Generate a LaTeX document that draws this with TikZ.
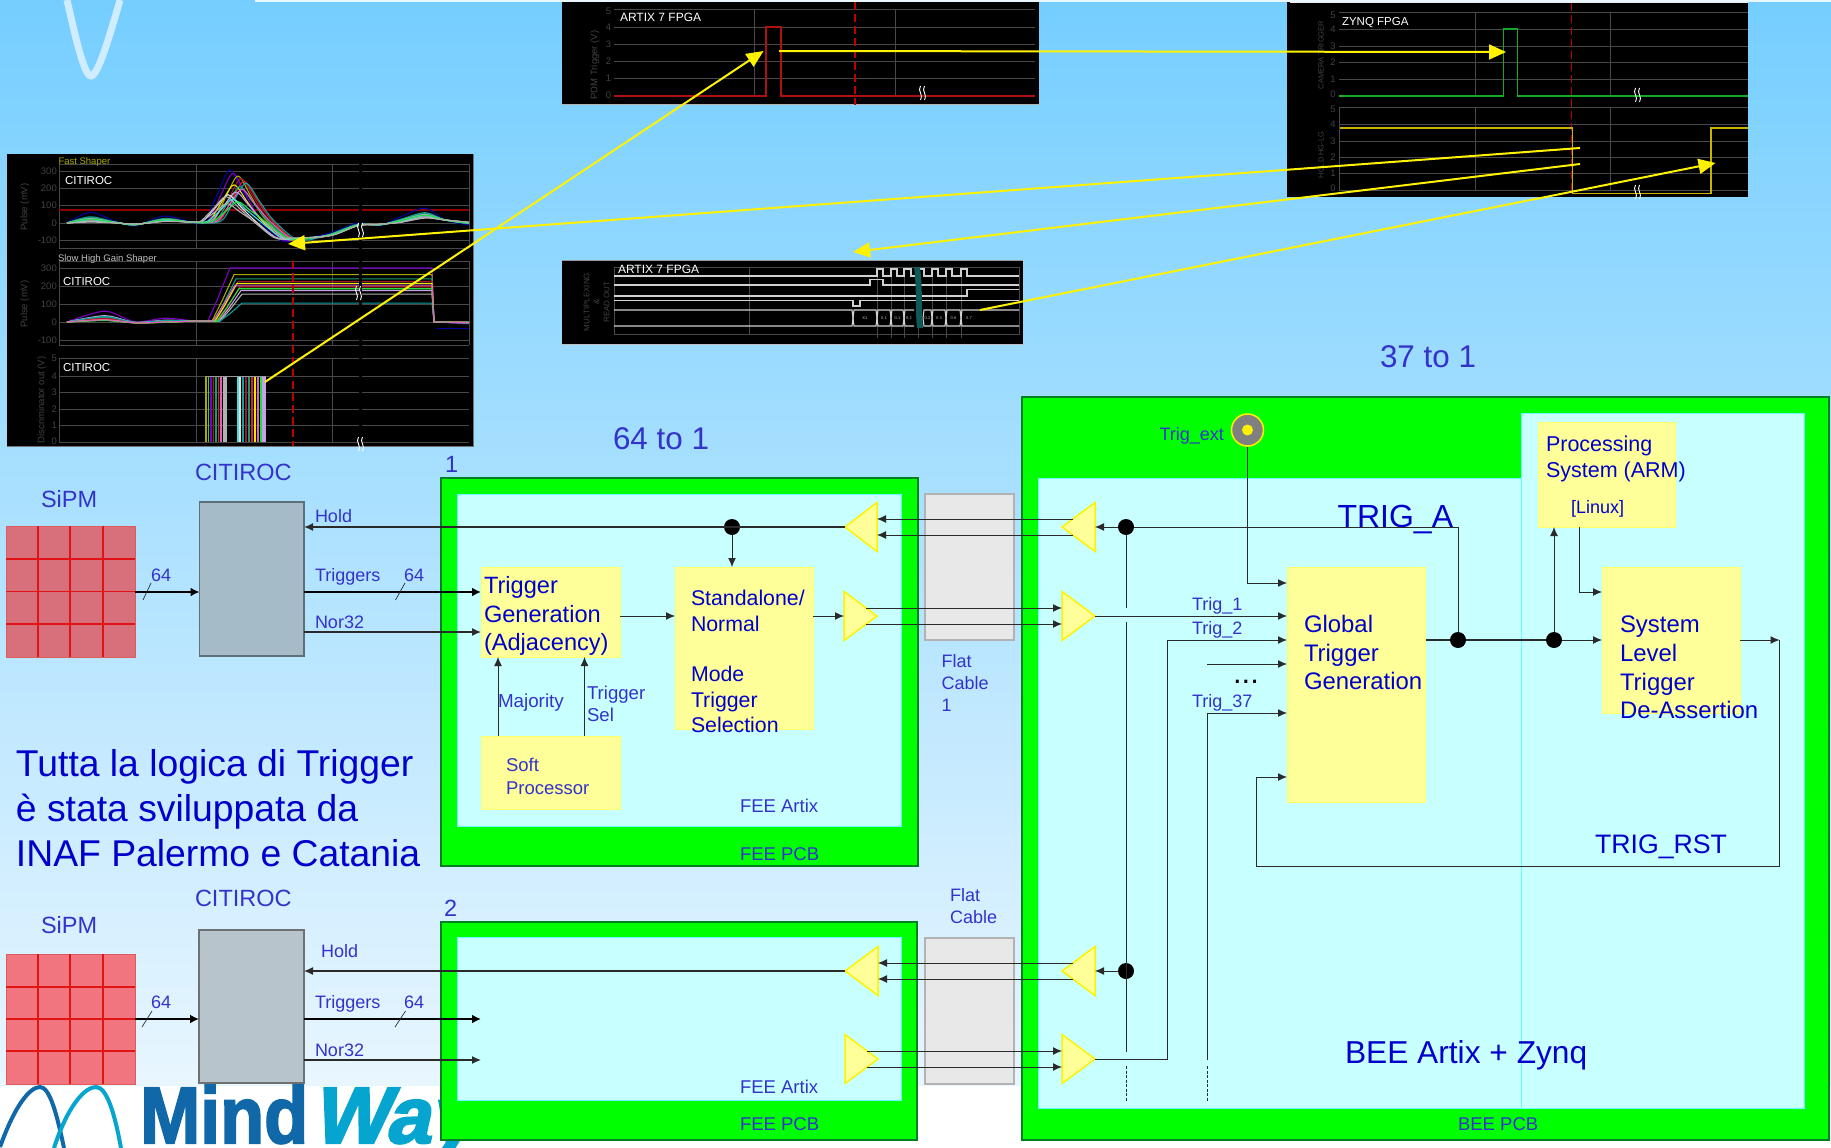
\documentclass[tikz,border=0pt]{standalone}
\usepackage{fontspec}
\usepackage{graphicx}
\setmainfont{Liberation Sans}
\newfontfamily\logofm[FakeBold=2.5]{Liberation Sans Bold}
\newfontfamily\logofw[FakeBold=2.5,FakeSlant=0.22]{Liberation Sans Bold}
\usetikzlibrary{arrows.meta,calc}
\definecolor{bluet}{HTML}{3333CC}
\definecolor{bluek}{HTML}{0000CC}
\definecolor{pcbg}{HTML}{00FF00}
\definecolor{pcbe}{HTML}{008020}
\definecolor{innerc}{HTML}{C8FFFF}
\definecolor{innere}{HTML}{66FFFF}
\definecolor{boxy}{HTML}{FFFF99}
\definecolor{boxe}{HTML}{FFFF66}
\definecolor{linec}{HTML}{2A2A2A}
\definecolor{gridc}{HTML}{484848}
\definecolor{tickc}{HTML}{424242}
\definecolor{wa}{HTML}{7A00C8}
\definecolor{wb}{HTML}{A8A800}
\definecolor{wc}{HTML}{10A070}
\definecolor{wd}{HTML}{A01830}
\definecolor{we}{HTML}{E02020}
\definecolor{wf}{HTML}{C8A0E8}
\definecolor{wg}{HTML}{B0B0B0}
\definecolor{wh}{HTML}{10A0A0}
\definecolor{wi}{HTML}{E8E800}
\definecolor{wj}{HTML}{0000A0}
\definecolor{wk}{HTML}{E060C0}
\definecolor{wl}{HTML}{20E040}
\definecolor{wm}{HTML}{E0E0E0}
\definecolor{wn}{HTML}{40E0E0}
\definecolor{logod}{HTML}{1068A8}
\definecolor{logol}{HTML}{05A5D0}
\tikzset{
  pcb/.style={fill=pcbg,draw=pcbe,line width=1.5pt},
  innerb/.style={fill=innerc,draw=innere,line width=1pt},
  ybox/.style={fill=boxy,draw=boxe,line width=1pt},
  cable/.style={fill=black!9,draw=black!30,line width=1.5pt},
  chipa/.style={fill={rgb,255:red,165;green,187;blue,200},draw={rgb,255:red,95;green,111;blue,120},line width=1.5pt},
  chipb/.style={fill={rgb,255:red,184;green,196;blue,204},draw={rgb,255:red,111;green,112;blue,114},line width=1.5pt},
  sipma/.style={fill={rgb,255:red,216;green,112;blue,124},draw={rgb,255:red,224;green,90;blue,90},line width=1pt},
  sipmb/.style={fill={rgb,255:red,240;green,117;blue,126},draw={rgb,255:red,224;green,90;blue,90},line width=1pt},
  sipml/.style={draw={rgb,255:red,224;green,20;blue,20},line width=1.2pt},
  dotn/.style={circle,fill=black,inner sep=0,minimum size=16pt},
  wire/.style={draw=linec,line width=1pt},
  arr/.style={wire,-{Latex[length=9pt,width=8pt]}},
  thickarr/.style={draw=black,line width=2.5pt,-{Latex[length=9pt,width=9pt]}},
  wirethick/.style={draw=linec,line width=1.6pt},
  thinslash/.style={draw=linec,line width=.7pt},
  finedash/.style={draw=linec,line width=.7pt,dash pattern=on 3pt off 1.5pt},
  buff/.style={fill=boxy,draw=yellow,line width=1.5pt,line join=miter},
  yarr/.style={draw=yellow,line width=2pt,-{Triangle[length=17pt,width=15pt]}},
  grid line/.style={draw=gridc,line width=.9pt},
  sig/.style={draw=black!18,line width=1.1pt},
  reddash/.style={draw={rgb,255:red,190;green,0;blue,0},line width=1.2pt,dash pattern=on 8pt off 4pt},
  panel/.style={fill=black}
}
% text: name,x,ycentre,size,leading,colour,text
\newcommand\lbl[7]{\node[anchor=base west,inner sep=0,outer sep=0,text=#6,font=\fontsize{#4}{#5}\selectfont] (#1) at ({#2},{#3+0.36*#4}) {\begin{tabular}[t]{@{}l@{}}#7\end{tabular}};}
% box: name,x1,y1,x2,y2,style
\newcommand\pbox[6]{\node[#6,inner sep=0,outer sep=0,minimum width={(#4-#2)*1pt},minimum height={(#5-#3)*1pt}] (#1) at ({(#2+#4)/2},{(#3+#5)/2}) {};}
% buffer: name,tipx,basex,yc
\newcommand\buf[4]{%
  \filldraw[buff] (#2,#4) -- (#3,#4-24.5) -- (#3,#4+24.5) -- cycle;
  \coordinate (#1-tip) at (#2,#4);
  \coordinate (#1-base) at (#3,#4);
  \coordinate (#1-a) at ({#2+(#3-#2)/3},#4-8);
  \coordinate (#1-b) at ({#2+(#3-#2)/3},#4+8);
  \coordinate (#1-ba) at (#3,#4-8);
  \coordinate (#1-bb) at (#3,#4+8);}
% squiggle break
\newcommand\brk[2]{\draw[white,line width=.9pt] (#1-1.5,#2-7) .. controls (#1-5,#2-2) and (#1+2,#2+2) .. (#1-1.5,#2+7) (#1+2.5,#2-7) .. controls (#1-1,#2-2) and (#1+6,#2+2) .. (#1+2.5,#2+7);}
% SiPM: x-lines at 38,70,103
\newcommand\sipmgrid[4]{\draw[sipml] (38,#1) -- (38,#2) (70,#1) -- (70,#2) (103,#1) -- (103,#2) (6,#3) -- (135,#3) (6,#4) -- (135,#4) (6,{(#3+#4)/2}) -- (135,{(#3+#4)/2});}
\begin{document}
\begin{tikzpicture}[x=1pt,y=-1pt]
\useasboundingbox (0,0) rectangle (1831,1148);
\fill[white] (0,0) rectangle (1831,1148);
\shade[top color={rgb,255:red,117;green,206;blue,255},bottom color={rgb,255:red,232;green,246;blue,255}] (0,0) rectangle (1831,1085);
\fill[white!70!cyan!30!white] (255,0) rectangle (1831,2);
% logo fragments
\draw[line width=7pt,color={rgb,255:red,208;green,236;blue,255}] (67,0) .. controls (75,35) and (84,76) .. (91,76) .. controls (98,76) and (110,35) .. (120,0);
\draw[logod,line width=4pt] (0,1147) .. controls (15,1105) and (30,1087) .. (40,1087) .. controls (50,1087) and (57,1115) .. (64,1148);
\draw[logol,line width=4pt] (54,1148) .. controls (68,1105) and (85,1087) .. (96,1087) .. controls (107,1087) and (115,1115) .. (121,1148);
\node[anchor=base west,inner sep=0,text=logod,font=\fontsize{80}{80}\logofm] (logoa) at (140,1143) {\scalebox{.9}[1]{Mind}};
\node[anchor=base west,inner sep=0,text=logol,font=\fontsize{80}{80}\logofw] (logob) at (312,1143) {Way};

% ---------- PANEL A: CITIROC ----------
\fill[panel] (7,154) rectangle (473,446);
\draw[draw=black!55,line width=.8pt] (473,154) -- (473,446) -- (7,446);
\foreach \yy in {164,171,188,205,223,240,248,261,268,286,304,322,340,345,358,376,392,409,425,442}
  \draw[grid line] (59,\yy) -- (469,\yy);
\foreach \xx/\ya/\yb in {59/164/248,59/261/345,59/358/443,469/164/248,469/261/345,196/164/248,196/261/345,196/358/443,332/164/248,332/261/345,332/358/443}
  \draw[grid line] (\xx,\ya) -- (\xx,\yb);
\draw[draw={rgb,255:red,140;green,0;blue,0},line width=1.2pt] (59,210) -- (469,210);
\foreach \wcl/\wam/\wds/\wbp in {wj/300/-2/60,wa/280/1/30,wb/265/6/25,wd/250/9/20,we/235/12/15,wh/225/14/35,wi/215/2/10,wc/205/8/30,wk/190/10/12,wf/175/4/25,wm/160/-4/8,wg/150/-6/10,wn/135/1/18,wl/120/6/22,wg/110/-5/5}
{
  \draw[\wcl,line width=1.1pt] plot[smooth] coordinates {(67,223) (90,223-\wbp*.177) (115,223-\wbp*.03) (135,224+\wbp*.03) (165,222-\wbp*.1) (195,222+\wbp*.02) (207+\wds,221) (220+\wds,223-\wam*.1) (232+\wds,223-\wam*.177) (245+\wds,223-\wam*.1) (258+\wds,223-\wam*.02) (280+\wds,236+\wam*.01) (295+\wds,238+\wbp*.05) (330,236-\wbp*.05) (358,226-\wbp*.05) (380,224+\wbp*.03) (400,223-\wbp*.1) (425,219-\wbp*.18) (445,220) (469,222+\wbp*.05)};
}
\foreach \wcl/\wam/\wds/\wbp in {wa/300/-4/60,wb/263/0/30,wc/240/2/25,wd/225/4/20,we/195/6/15,wf/175/7/35,wg/155/8/10,wh/105/8/30,wi/215/3/10,wl/185/5/8,wk/205/1/12}
{
  \draw[\wcl,line width=1.1pt] plot[smooth] coordinates {(67,322) (105,322-\wbp*.18) (135,323-\wbp*.02) (165,323-\wbp*.08) (195,321) (212+\wds,321)} -- (222+\wds,322-\wam*.08) -- (234+\wds,322-\wam*.18) -- (432,322-\wam*.18) -- (434,322) -- (469,322+\wbp*.03);
}
\draw[wj,line width=1pt] (436,328) -- (469,328);
\foreach \xp/\wcl in {206/wb,208.5/wl,211/wa,213.5/wd,216/wc,218.5/we,221/wk,224/wg,226/wg,238/wn,240/wm,243/wh,246/wd,249/wc,252/we,255/wi,258/wk,261/wl,263/wf,265/wf}
  \draw[\wcl,line width=1.4pt] (\xp,376) -- (\xp,442);
\draw[draw=black!40,line width=1pt] (206,376) -- (265,376);
\draw[reddash] (293,261) -- (293,446);
\fill[black] (358.5,164) rectangle (362,443);
\brk{360}{230}\brk{358}{293}\brk{360}{444}
\lbl{fastsh}{58.5}{161}{9.5}{11}{{rgb,255:red,170;green,170;blue,0}}{Fast Shaper}
\lbl{slowsh}{58}{258}{9.5}{11}{black!25}{Slow High Gain Shaper}
\lbl{citia}{65}{180}{11.5}{13}{white}{CITIROC}
\lbl{citib}{63}{281}{11.5}{13}{white}{CITIROC}
\lbl{citic}{63}{367}{11.5}{13}{white}{CITIROC}
\foreach \yy/\tt in {171/300,188/200,205/100,223/0,240/-100}
  \node[anchor=east,inner sep=0,text=tickc,font=\fontsize{9.5}{10}\selectfont] (tka\yy) at (57,\yy) {\tt};
\foreach \yy/\tt in {268/300,286/200,304/100,322/0,340/-100}
  \node[anchor=east,inner sep=0,text=tickc,font=\fontsize{9.5}{10}\selectfont] (tkb\yy) at (57,\yy) {\tt};
\foreach \yy/\tt in {358/5,376/4,392/3,409/2,425/1,441/0}
  \node[anchor=east,inner sep=0,text=tickc,font=\fontsize{9.5}{10}\selectfont] (tkc\yy) at (57,\yy) {\tt};
\node[rotate=90,inner sep=0,text=tickc,font=\fontsize{9.5}{10}\selectfont] (ylaba) at (25,207) {Pulse (mV)};
\node[rotate=90,inner sep=0,text=tickc,font=\fontsize{9.5}{10}\selectfont] (ylabb) at (25,304) {Pulse (mV)};
\node[rotate=90,inner sep=0,text=tickc,font=\fontsize{9.5}{10}\selectfont] (ylabc) at (42,400) {Discriminator out (V)};

% ---------- PANEL B: ARTIX top ----------
\fill[panel] (562,2) rectangle (1039,105);
\draw[draw=black!30,line width=.8pt] (562,104.5) -- (1039,104.5);
\foreach \yy in {9,27,44,61,78}
  \draw[grid line] (614,\yy) -- (1035,\yy);
\foreach \xx in {754.5,895}
  \draw[grid line] (\xx,9) -- (\xx,96);
\draw[reddash] (855,2) -- (855,105);
\draw[draw={rgb,255:red,176;green,16;blue,16},line width=1.2pt] (614,96) -- (766,96) -- (766,27) -- (781,27) -- (781,96) -- (1035,96);
\brk{922}{93}
\lbl{artixa}{620}{17}{12}{14}{white}{ARTIX 7 FPGA}
\foreach \yy/\tt in {11/5,27/4,44/3,61/2,78/1,95/0}
  \node[inner sep=0,text=tickc,font=\fontsize{9.5}{10}\selectfont] (tkd\yy) at (608.5,\yy) {\tt};
\node[rotate=90,inner sep=0,text=tickc,font=\fontsize{9.5}{10}\selectfont] (ylabd) at (595,65) {PDM Trigger (V)};

% ---------- PANEL C: ARTIX bottom ----------
\fill[panel] (562,260) rectangle (1022.5,344);
\draw[draw=black!40,line width=.8pt] (562,260.5) -- (1022.5,260.5);
\draw[draw=black!25,line width=.8pt] (562,344) -- (1022.5,344);
\draw[grid line,line width=.7pt] (614,267) rectangle (1019,334);
\draw[grid line,line width=.7pt] (749,267) -- (749,334);
\foreach \xx in {877,891,904,918,932,946,961}
  \draw[grid line,line width=.6pt] (\xx,267) -- (\xx,338);
\draw[sig] (614,276) -- (877,276) -- (877,269) -- (883,269) -- (883,276) -- (891,276) -- (891,269) -- (897,269) -- (897,276) -- (904,276) -- (904,269) -- (911,269) -- (911,276) -- (918,276) -- (918,269) -- (924,269) -- (924,276) -- (932,276) -- (932,269) -- (938,269) -- (938,276) -- (946,276) -- (946,269) -- (952,269) -- (952,276) -- (961,276) -- (961,269) -- (967,269) -- (967,276) -- (1019,276);
\draw[sig] (614,285) -- (870,285) -- (870,279.5) -- (883,279.5) -- (883,285) -- (1019,285);
\draw[sig] (614,296) -- (967,296) -- (967,289.5) -- (1019,289.5);
\draw[sig] (614,300.5) -- (853,300.5) -- (853,306) -- (860,306) -- (860,300.5) -- (1019,300.5);
\draw[sig] (614,310) -- (852,310) -- (853,318) -- (852,326) -- (614,326);
\foreach \xa/\xb in {853/877,877/891,891/904,932/946,946/961,923/932}
  \draw[sig] (\xa,318) -- (\xa+1,310) -- (\xb-1,310) -- (\xb,318) -- (\xb-1,326) -- (\xa+1,326) -- cycle;
\draw[sig] (904,318) -- (905,310) -- (914,310) (904,318) -- (905,326) -- (914,326);
\draw[sig] (961,318) -- (962,310) -- (1019,310) (961,318) -- (962,326) -- (1019,326);
\fill[color={rgb,255:red,14;green,90;blue,90}] (914,267) .. controls (917,290) and (915,310) .. (917,328) -- (923,328) .. controls (921,310) and (923,290) .. (920,267) -- cycle;
\foreach \xp/\tt/\nn in {865/K1/ba,884/0.1/bb,897.5/0.1/bc,909/0.2/bd,927.5/0.2/be,939/0.3/bf,953.5/0.6/bg,969/0.7/bh}
  \node[inner sep=0,text=black!25,font=\fontsize{4}{5}\selectfont] (bus\nn) at (\xp,318) {\tt};
\lbl{artixb}{618}{269}{12}{14}{white}{ARTIX 7 FPGA}
\node[rotate=90,inner sep=0,text=tickc,font=\fontsize{8}{10}\selectfont,align=center] (ylabe) at (596.5,302) {MULTIPLEXING\\\&\\READ OUT};

% ---------- PANEL D: ZYNQ ----------
\fill[panel] (1287,2) rectangle (1748,197);
\draw[draw=black!8,line width=1pt] (1290,2.5) -- (1748,2.5);
\foreach \yy in {12,29,46,62,79,107,124,141,157,173,190}
  \draw[grid line] (1339,\yy) -- (1748,\yy);
\foreach \xx in {1475,1610.6}
  \draw[grid line] (\xx,12) -- (\xx,96) (\xx,107) -- (\xx,190);
\draw[grid line] (1339,107) -- (1339,190);
\draw[reddash] (1571.6,3) -- (1571.6,190);
\draw[draw={rgb,255:red,20;green,170;blue,40},line width=1.2pt] (1339,96) -- (1503.6,96) -- (1503.6,29) -- (1517.6,29) -- (1517.6,96) -- (1748,96);
\draw[draw={rgb,255:red,200;green,180;blue,0},line width=1.3pt] (1340,128) -- (1572.7,128) -- (1572.7,193.5) -- (1711,193.5) -- (1711,128) -- (1748,128);
\brk{1637}{95}\brk{1637}{192}
\lbl{zynqa}{1342}{21}{11.5}{14}{white}{ZYNQ FPGA}
\foreach \yy/\tt in {15/5,29/4,46/3,62/2,79/1,94/0,109/5,124/4,141/3,157/2,173/1,188/0}
  \node[inner sep=0,text=tickc,font=\fontsize{9.5}{10}\selectfont] (tkz\yy) at (1333,\yy) {\tt};
\node[rotate=90,inner sep=0,text=tickc,font=\fontsize{7.5}{9}\selectfont] (ylabf) at (1321,55) {CAMERA TRIGGER};
\node[rotate=90,inner sep=0,text=tickc,font=\fontsize{7.5}{9}\selectfont] (ylabg) at (1321,155) {HOLD HG-LG};

% ---------- Yellow timing arrows ----------
\coordinate (ya1) at (265,382); \coordinate (yb1) at (763.5,51);
\coordinate (ya2) at (779,51);  \coordinate (yb2) at (1506,52);
\coordinate (ya3) at (1580,148);\coordinate (yb3) at (288,244);
\coordinate (ya4) at (1580,164);\coordinate (yb4) at (853,252);
\coordinate (ya5) at (980,310); \coordinate (yb5) at (1715.5,163);
\draw[yarr] (ya1) -- (yb1);
\draw[yarr] (ya2) -- (yb2);
\draw[yarr] (ya3) -- (yb3);
\draw[yarr] (ya4) -- (yb4);
\draw[yarr] (ya5) -- (yb5);

% ---------- Section labels ----------
\lbl{sixtyfour}{613}{438}{31.4}{36}{bluet}{64 to 1}
\lbl{thirtyseven}{1380}{356}{31.4}{36}{bluet}{37 to 1}

% ---------- SiPM / CITIROC channel 1 ----------
\pbox{sipma}{6}{526}{135}{657}{sipma}
\sipmgrid{526}{657}{559}{624}
\pbox{chipa}{199.5}{502}{304}{656}{chipa}
\lbl{sipmla}{41}{499}{23.5}{28}{bluet}{SiPM}
\lbl{citla}{195}{472}{23.5}{28}{bluet}{CITIROC}
\lbl{numa}{445}{464}{23.5}{28}{bluet}{1}

% ---------- FEE 1 ----------
\pbox{feea}{441}{478}{918}{866}{pcb}
\pbox{feeai}{457}{494}{901}{826}{innerb}
\pbox{tg}{481}{567}{620}{657}{ybox}
\pbox{sa}{675}{567}{813}{729}{ybox}
\pbox{sp}{481}{736}{620}{809}{ybox}
\buf{fl}{845}{877}{527}
\buf{fr}{877}{844}{616}
\node[dotn] (da) at (732,527) {};
\lbl{tgl}{484}{585}{23.6}{28.5}{bluek}{Trigger\\Generation\\(Adjacency)}
\lbl{sal}{691}{598}{21.3}{25.4}{bluek}{Standalone/\\Normal\\\\Mode\\Trigger\\Selection}
\lbl{majl}{498}{701}{18.8}{22}{bluet}{Majority}
\lbl{tsl}{587}{693}{18.6}{22}{bluet}{Trigger\\Sel}
\lbl{spl}{506}{765}{18.5}{23}{bluet}{Soft\\Processor}
\lbl{feal}{740}{806}{18.5}{22}{bluet}{FEE Artix}
\lbl{feap}{740}{854}{18.5}{22}{bluet}{FEE PCB}
\lbl{holda}{315}{516}{18}{22}{bluet}{Hold}
\lbl{trga}{315}{575}{18}{22}{bluet}{Triggers}
\lbl{sfa}{151}{575}{18}{22}{bluet}{64}
\lbl{sfb}{404}{575}{18}{22}{bluet}{64}
\lbl{nora}{315}{622}{18}{22}{bluet}{Nor32}
\draw[thickarr] (sipma.east |- 0,592) -- (chipa.west |- 0,592);
\draw[thickarr] (chipa.east |- 0,592) -- (tg.west |- 0,592);
\draw[arr,line width=1.3pt] (chipa.east |- 0,632) -- (tg.west |- 0,632);
\draw[arr,line width=1.6pt] (fl-tip) -- (chipa.east |- fl-tip);
\draw[arr] (da) -- (da |- sa.north);
\draw[arr] (tg.east |- 0,616) -- (sa.west |- 0,616);
\draw[arr] (sa.east |- 0,616) -- (fr-base);
\draw[arr] (498,736) -- (498,657);
\draw[arr] (584.5,736) -- (584.5,657);
\draw[thinslash] (143,600) -- (151,583);
\draw[thinslash] (395.5,600) -- (405,583);

% ---------- Italian note ----------
\lbl{note}{16}{763}{37.3}{45}{bluek}{Tutta la logica di Trigger\\è stata sviluppata da\\INAF Palermo e Catania}

% ---------- SiPM / CITIROC channel 2 ----------
\pbox{sipmb}{6}{954}{135}{1084}{sipmb}
\sipmgrid{954}{1084}{987}{1051}
\pbox{chipb}{199}{930}{304}{1083}{chipb}
\lbl{sipmlb}{41}{925}{23.5}{28}{bluet}{SiPM}
\lbl{citlb}{195}{898}{23.5}{28}{bluet}{CITIROC}
\lbl{numb}{444}{908}{23.5}{28}{bluet}{2}

% ---------- FEE 2 ----------
\pbox{feeb}{441}{922}{917}{1140}{pcb}
\pbox{feebi}{457}{937}{901}{1100}{innerb}
\buf{gl}{845}{878}{971}
\buf{gr}{878}{845}{1059}
\lbl{holdb}{321}{951}{18}{22}{bluet}{Hold}
\lbl{trgb}{315}{1002}{18}{22}{bluet}{Triggers}
\lbl{sfc}{151}{1002}{18}{22}{bluet}{64}
\lbl{sfd}{404}{1002}{18}{22}{bluet}{64}
\lbl{norb}{315}{1050}{18}{22}{bluet}{Nor32}
\lbl{febl}{740}{1087}{18.5}{22}{bluet}{FEE Artix}
\lbl{febp}{740}{1124}{18.5}{22}{bluet}{FEE PCB}
\coordinate (trgend) at (481,1019);
\coordinate (norend) at (481,1060);
\draw[thickarr] (sipmb.east |- 0,1019) -- (chipb.west |- 0,1019);
\draw[thickarr] (chipb.east |- 0,1019) -- (trgend);
\draw[arr,line width=1.3pt] (chipb.east |- 0,1060) -- (norend);
\draw[arr,line width=1.3pt] (gl-tip) -- (chipb.east |- gl-tip);
\draw[thinslash] (142,1027) -- (152,1011);
\draw[thinslash] (395,1027) -- (405.5,1011);

% ---------- Flat cables ----------
\pbox{fca}{925}{494}{1014}{640}{cable}
\pbox{fcb}{925}{938}{1014}{1084}{cable}
\lbl{fcal}{941.5}{661}{18}{22}{bluet}{Flat\\Cable\\1}
\lbl{fcbl}{950}{895}{18}{22}{bluet}{Flat\\Cable}

% ---------- BEE ----------
\pbox{bee}{1022}{397}{1829}{1140}{pcb}
\draw[innerb] (1038,478) -- (1521,478) -- (1521,413) -- (1804,413) -- (1804,1108) -- (1038,1108) -- cycle;
\draw[draw=innere,line width=1pt] (1521,478) -- (1521,1108);
\pbox{gg}{1287}{567}{1425.5}{802}{ybox}
\pbox{sl}{1602}{567}{1740}{713}{ybox}
\pbox{ps}{1538}{422}{1675.5}{527}{ybox}
\buf{bl}{1062}{1095}{527}
\buf{br}{1095}{1062}{616}
\buf{cl}{1062}{1095}{971}
\buf{cr}{1095}{1062}{1059}
\node[circle,fill={rgb,255:red,128;green,128;blue,128},draw=yellow,line width=1.5pt,inner sep=0,minimum size=32pt] (trx) at (1247.5,430) {};
\node[circle,fill=yellow,inner sep=0,minimum size=11pt] (trxc) at (trx) {};
\node[dotn] (db) at (1126,527) {};
\node[dotn] (dc) at (1126,971) {};
\node[dotn] (dd) at (1458,640) {};
\node[dotn] (de) at (1554,640) {};
\lbl{trigext}{1159.5}{434}{18}{22}{bluet}{Trig\_ext}
\lbl{trigal}{1337.5}{516}{32}{38}{bluek}{TRIG\_A}
\lbl{psl}{1546}{444}{21.5}{26}{bluek}{Processing\\System (ARM)}
\lbl{linux}{1571}{507}{18}{22}{bluek}{[Linux]}
\lbl{ggl}{1304}{624}{23.9}{28.6}{bluek}{Global\\Trigger\\Generation}
\lbl{sll}{1620}{624}{23.9}{28.7}{bluek}{System\\Level\\Trigger\\De-Assertion}
\lbl{t1}{1192}{604}{18}{22}{bluet}{Trig\_1}
\lbl{t2}{1192}{628}{18}{22}{bluet}{Trig\_2}
\lbl{t37}{1192}{701}{18}{22}{bluet}{Trig\_37}
\lbl{dots}{1233}{672}{31}{34}{black}{...}
\lbl{trst}{1595}{844}{26.7}{32}{bluek}{TRIG\_RST}
\lbl{beel}{1345}{1052}{31.7}{38}{bluek}{BEE Artix + Zynq}
\lbl{beep}{1458}{1124}{18.5}{22}{bluet}{BEE PCB}

% connectors across the cables
\draw[arr] (bl-a) -- (fl-ba);
\draw[arr] (bl-b) -- (fl-bb);
\draw[arr] (fr-a) -- (br-ba);
\draw[arr] (fr-b) -- (br-bb);
\draw[arr] (cl-a) -- (gl-ba);
\draw[arr] (cl-b) -- (gl-bb);
\draw[arr] (gr-a) -- (cr-ba);
\draw[arr] (gr-b) -- (cr-bb);
% inside BEE
\draw[wirethick] (dd) -- (gg.east |- dd);
\draw[wirethick] (dd) -- (de);
\draw[arr] (de) -- (sl.west |- de);
\draw[wire] (dd) -- (dd |- db) -- (db);
\draw[arr] (db) -- (bl-base);
\draw[arr] (dc) -- (cl-base);
\draw[arr] (br-tip) -- (gg.west |- br-tip);
\draw[wire] (db) -- (db |- 0,608);
\draw[wire] (db |- 0,622) -- (db |- 0,1052);
\draw[finedash] (db |- 0,1066) -- (db |- 0,1101);
\draw[arr] (cr-tip) -- (1167,1059) -- (1167,640) -- (gg.west |- 0,640);
\draw[arr] (1207,664) -- (gg.west |- 0,664);
\draw[arr] (1207,1060) -- (1207,713) -- (gg.west |- 0,713);
\draw[finedash] (1207,1066) -- (1207,1101);
\draw[arr] (trx.south) -- (trx.south |- 0,583) -- (gg.west |- 0,583);
\draw[arr] (de) -- (de |- ps.south);
\draw[arr] (1579,527) -- (1579,592) -- (sl.west |- 0,592);
\coordinate (rsta) at (1779.5,640);
\draw[arr] (sl.east |- rsta) -- (rsta);
\draw[wire] (rsta) -- (1779.5,866) -- (1256,866) -- (1256,777);
\draw[arr] (1256,777) -- (gg.west |- 0,777);
\end{tikzpicture}
\end{document}
